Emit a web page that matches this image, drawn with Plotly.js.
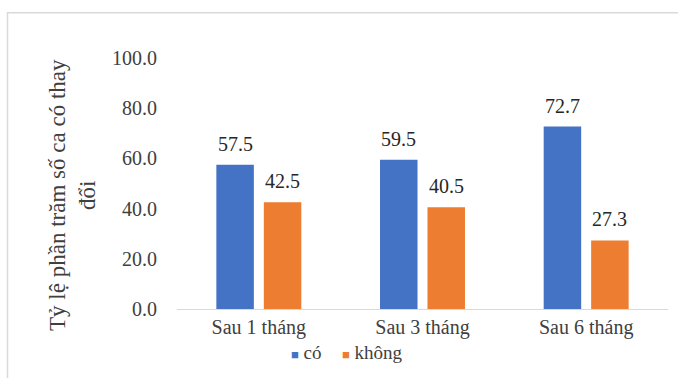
<!DOCTYPE html>
<html><head><meta charset="utf-8">
<script src="https://cdn.plot.ly/plotly-3.0.1.min.js"></script>
<style>html,body{margin:0;padding:0;background:#fff}#chart{width:678px;height:378px}</style>
</head><body><div id="chart"></div>
<script>
const categories = ["Sau 1 tháng", "Sau 3 tháng", "Sau 6 tháng"];
const coValues = [57.5, 59.5, 72.7];
const khongValues = [42.5, 40.5, 27.3];
const seriesNames = ["có", "không"];
const seriesColors = ["#4472C4", "#ED7D31"];
const yTicks = [0, 20, 40, 60, 80, 100];
const yTickLabels = ["0.0", "20.0", "40.0", "60.0", "80.0", "100.0"];
const yTitle = "Tỷ lệ phần trăm số ca có thay<br>đổi";

const font = "Times New Roman, Liberation Serif, serif";
const L = 177, R = 668, T = 57.5, B = 309.5, W = 678, H = 378;
const pw = R - L, ph = B - T;
const px = x => (x - L) / pw, py = y => (B - y) / ph;

const allValues = [coValues, khongValues];
const data = allValues.map((vals, i) => ({
  type: "bar", name: seriesNames[i], x: categories, y: vals,
  marker: {color: seriesColors[i]}, hoverinfo: "skip"
}));

// value labels, anchored to each bar through the axes
const barShift = 23.7;
const valueLabels = [];
allValues.forEach((vals, i) => vals.forEach((v, j) => valueLabels.push({
  text: v.toFixed(1), x: categories[j], y: v, xref: "x", yref: "y",
  xshift: (i === 0 ? -1 : 1) * barShift, yshift: 8, xanchor: "center", yanchor: "bottom",
  showarrow: false, font: {family: font, size: 20, color: "#262626"}
})));

const legendX = [289, 340];
const legendItems = seriesNames.map((n, i) => ({
  text: `<span style="color:${seriesColors[i]};font-size:13px">■</span> ${n}`,
  xref: "paper", yref: "paper", x: px(legendX[i]), y: py(353),
  xanchor: "left", yanchor: "middle", showarrow: false,
  font: {family: font, size: 19, color: "#404040"}
}));

const layout = {
  width: W, height: H,
  margin: {l: L, r: W - R, t: T, b: H - B},
  paper_bgcolor: "#fff", plot_bgcolor: "#fff",
  font: {family: font, size: 18, color: "#404040"},
  barmode: "group", bargap: 0.42, bargroupgap: 0.21,
  showlegend: false,
  xaxis: {showline: true, linecolor: "#d9d9d9", linewidth: 1, ticks: "", showgrid: false,
          tickfont: {family: font, size: 20, color: "#404040"}, fixedrange: true},
  yaxis: {range: [0, 100], tickvals: yTicks, ticktext: yTickLabels, showgrid: false, zeroline: false,
          showline: false, ticks: "", ticklabelstandoff: 19,
          tickfont: {family: font, size: 20, color: "#404040"}, fixedrange: true},
  annotations: [
    {text: yTitle, xref: "paper", yref: "paper", x: px(73), y: py(195),
     xanchor: "center", yanchor: "middle", textangle: -90, showarrow: false,
     font: {family: font, size: 23, color: "#404040"}},
    ...legendItems, ...valueLabels
  ],
  shapes: [{type: "rect", xref: "paper", yref: "paper", x0: px(7.5), x1: px(690), y0: py(392), y1: py(12),
            line: {color: "#d9d9d9", width: 1.5}, fillcolor: "rgba(0,0,0,0)", layer: "below"}]
};
Plotly.newPlot("chart", data, layout, {staticPlot: true});
</script></body></html>
